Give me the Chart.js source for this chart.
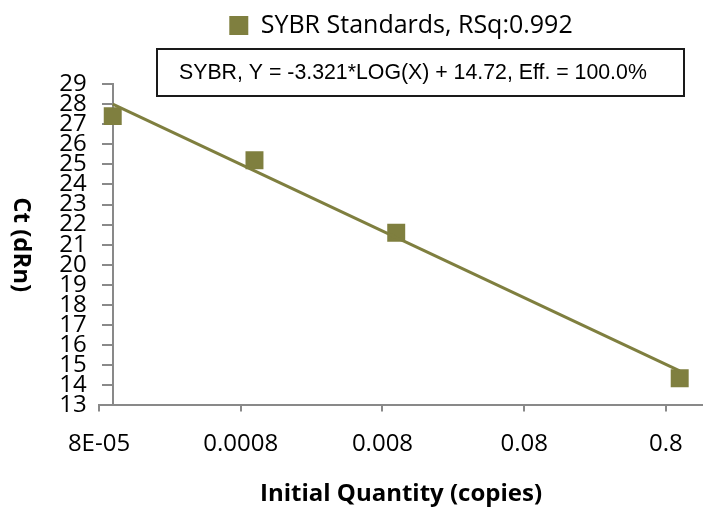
<!DOCTYPE html>
<html><head><meta charset="utf-8">
<script src="https://cdn.jsdelivr.net/npm/chart.js@4/dist/chart.umd.min.js"></script>
<style>html,body{margin:0;padding:0;background:#fff;}canvas{display:block;}</style>
</head><body>
<canvas id="c" width="703" height="514"></canvas>
<script>
const seriesName = 'SYBR Standards, RSq:0.992';
const equationText = 'SYBR, Y = -3.321*LOG(X) + 14.72, Eff. = 100.0%';
const quantities = [0.0001, 0.001, 0.01, 1];
const ctValues = [27.4, 25.2, 21.6, 14.35];
const trendX = [0.0001, 1];
const trendY = [28.0, 14.72];
const xTickValues = [0.00008, 0.0008, 0.008, 0.08, 0.8];
const xTickLabels = ['8E-05', '0.0008', '0.008', '0.08', '0.8'];
const yMin = 13, yMax = 29;
const xMin = 0.00008, xMax = 1.46;
const yAxisCrossesAt = 0.0001;
const xAxisTitle = 'Initial Quantity (copies)';
const yAxisTitle = 'Ct (dRn)';

const olive = '#7f7f3f';
const axisGray = '#898989';

// Linear scale placed at a value of the x axis, with its labels kept outside its tick marks
class CrossLinearScale extends Chart.LinearScale {
  _computeLabelItems(chartArea) {
    const items = super._computeLabelItems(chartArea);
    const shift = this.options.grid.tickLength + this.options.ticks.padding;
    items.forEach(it => { it.options.translation[0] -= shift; });
    return items;
  }
}
CrossLinearScale.id = 'crossLinear';
CrossLinearScale.defaults = Chart.LinearScale.defaults;
Chart.register(CrossLinearScale);

const equationBox = {
  id: 'equationBox',
  afterDraw(chart) {
    const ctx = chart.ctx;
    ctx.save();
    ctx.strokeStyle = '#1a1a1a';
    ctx.lineWidth = 2;
    ctx.fillStyle = '#fff';
    ctx.fillRect(157, 49, 527, 47);
    ctx.strokeRect(157, 49, 527, 47);
    ctx.fillStyle = '#000';
    ctx.font = '21.3px "Liberation Sans", Arial, sans-serif';
    ctx.textBaseline = 'alphabetic';
    ctx.textAlign = 'left';
    ctx.fillText(equationText, 179, 79);
    ctx.restore();
  }
};

new Chart(document.getElementById('c'), {
  type: 'scatter',
  data: {
    datasets: [
      {
        label: 'trend',
        type: 'line',
        data: trendX.map((x, i) => ({x, y: trendY[i]})),
        borderColor: olive,
        backgroundColor: olive,
        borderWidth: 3,
        pointRadius: 0,
        fill: false
      },
      {
        label: seriesName,
        data: quantities.map((x, i) => ({x, y: ctValues[i]})),
        backgroundColor: olive,
        borderColor: olive,
        borderWidth: 0,
        pointStyle: 'rect',
        pointRadius: 12.7,
        pointBackgroundColor: olive,
        pointBorderColor: olive,
        pointBorderWidth: 0
      }
    ]
  },
  options: {
    responsive: false,
    animation: false,
    events: [],
    layout: { autoPadding: false, padding: { left: 99, right: 0, top: 8, bottom: 3 } },
    plugins: {
      legend: {
        display: true,
        position: 'top',
        weight: 3000,
        labels: {
          filter: item => item.text !== 'trend',
          boxWidth: 19, boxHeight: 19,
          color: '#000',
          font: { family: '"Open Sans"', size: 25 },
          padding: 5
        }
      },
      title: {
        display: true,
        text: '',
        font: { size: 10 },
        padding: { top: 0, bottom: 24 }
      },
      tooltip: { enabled: false }
    },
    scales: {
      x: {
        type: 'logarithmic',
        position: 'bottom',
        min: xMin, max: xMax,
        afterBuildTicks: s => { s.ticks = xTickValues.map(v => ({ value: v })); },
        afterFit: s => { s.paddingLeft = 0; s.paddingRight = 0; },
        ticks: {
          callback: (v) => xTickLabels[xTickValues.indexOf(v)],
          autoSkip: false, maxRotation: 0,
          color: '#000',
          font: { family: '"Open Sans"', size: 24 },
          padding: 18
        },
        grid: { drawOnChartArea: false, drawTicks: true, tickLength: 6, color: axisGray, lineWidth: 2 },
        border: { color: axisGray, width: 2 },
        title: { display: true, text: xAxisTitle, color: '#000', font: { family: '"Open Sans"', size: 24, weight: 'bold' }, padding: { top: 4, bottom: 2 } }
      },
      y: {
        type: 'crossLinear',
        position: { x: yAxisCrossesAt },
        min: yMin, max: yMax,
        ticks: {
          stepSize: 1,
          autoSkip: false,
          color: '#000',
          font: { family: '"Open Sans"', size: 24 },
          padding: 16
        },
        grid: { drawOnChartArea: false, drawTicks: true, tickLength: 10, color: axisGray, lineWidth: 2 },
        border: { color: axisGray, width: 2 },
        title: { display: true, text: yAxisTitle, color: '#000', font: { family: '"Open Sans"', size: 24, weight: 'bold' }, padding: { top: 8, bottom: 20 } }
      }
    }
  },
  plugins: [equationBox]
});
</script>
</body></html>
